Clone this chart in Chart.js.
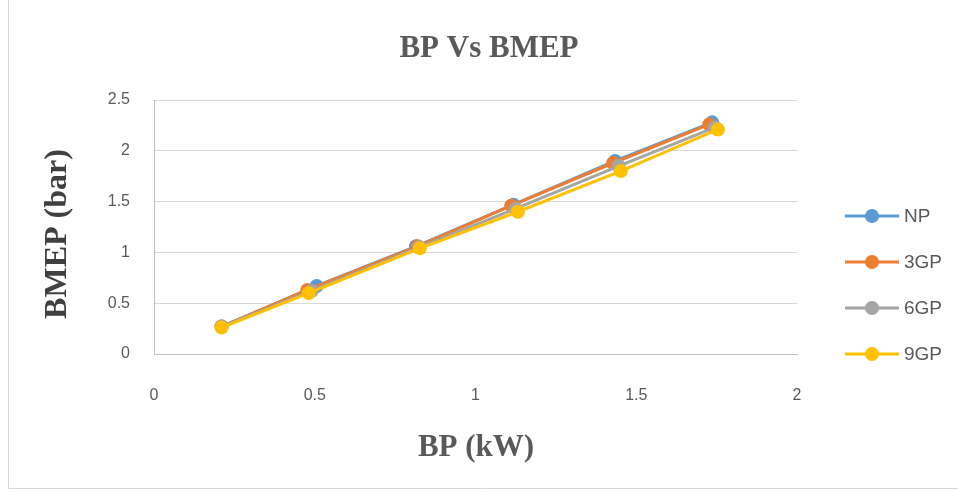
<!DOCTYPE html>
<html>
<head>
<meta charset="utf-8">
<script src="https://cdn.jsdelivr.net/npm/chart.js@4.4.1/dist/chart.umd.min.js"></script>
<style>
  html, body { margin: 0; padding: 0; background: #ffffff; }
  #wrap { width: 958px; height: 492px; position: relative; }
</style>
</head>
<body>
<div id="wrap"><canvas id="c" width="958" height="492"></canvas></div>
<script>
// Brake power (kW) and brake mean effective pressure (bar) per fuel blend
const seriesNames = ['NP', '3GP', '6GP', '9GP'];
const seriesColors = ['#5B9BD5', '#ED7D31', '#A5A5A5', '#FFC000'];

const bpNP   = [0.21, 0.506, 0.815, 1.118, 1.434, 1.736];
const bmepNP = [0.27, 0.67, 1.06, 1.47, 1.90, 2.28];

const bp3GP   = [0.21, 0.477, 0.820, 1.111, 1.428, 1.727];
const bmep3GP = [0.27, 0.63, 1.06, 1.46, 1.88, 2.26];

const bp6GP   = [0.21, 0.490, 0.825, 1.125, 1.445, 1.745];
const bmep6GP = [0.27, 0.62, 1.05, 1.43, 1.85, 2.23];

const bp9GP   = [0.21, 0.481, 0.827, 1.132, 1.452, 1.754];
const bmep9GP = [0.26, 0.60, 1.04, 1.40, 1.80, 2.21];

const xTicks = [0, 0.5, 1, 1.5, 2];
const yTicks = [0, 0.5, 1, 1.5, 2, 2.5];

const chartTitle = 'BP Vs BMEP';
const xTitle = 'BP (kW)';
const yTitle = 'BMEP (bar)';

const seriesX = [bpNP, bp3GP, bp6GP, bp9GP];
const seriesY = [bmepNP, bmep3GP, bmep6GP, bmep9GP];

// later series are painted over earlier ones
const datasets = seriesNames.map((name, i) => ({
  label: name,
  data: seriesX[i].map((x, j) => ({ x: x, y: seriesY[i][j] })),
  order: seriesNames.length - i,
  showLine: true,
  borderColor: seriesColors[i],
  backgroundColor: seriesColors[i],
  borderWidth: 3,
  pointRadius: 7,
  pointHoverRadius: 7,
  pointBorderWidth: 0,
  tension: 0
}));

const tickFont = { family: 'Liberation Sans, Arial, sans-serif', size: 16 };
const serif = 'Liberation Serif, Times New Roman, serif';

// Titles, legend and frame drawn around the plot
const decorations = {
  id: 'decorations',
  beforeDraw(chart) {
    const ctx = chart.ctx;
    ctx.save();
    ctx.fillStyle = '#ffffff';
    ctx.fillRect(0, 0, chart.width, chart.height);
    ctx.strokeStyle = '#D9D9D9';
    ctx.lineWidth = 1;
    ctx.beginPath();
    ctx.moveTo(8.5, 0);
    ctx.lineTo(8.5, 488.5);
    ctx.lineTo(chart.width, 488.5);
    ctx.stroke();
    ctx.restore();
  },
  afterDraw(chart) {
    const ctx = chart.ctx;
    ctx.save();
    ctx.fillStyle = '#595959';
    ctx.textAlign = 'center';
    ctx.textBaseline = 'middle';
    ctx.font = 'bold 31px ' + serif;
    ctx.fillText(chartTitle, 489, 49);
    ctx.font = 'bold 31px ' + serif;
    ctx.fillText(xTitle, 476, 448);
    ctx.fillStyle = '#404040';
    ctx.translate(58, 234);
    ctx.rotate(-Math.PI / 2);
    ctx.font = 'bold 32px ' + serif;
    ctx.fillText(yTitle, 0, 0);
    ctx.restore();

    // legend: line with a centred marker, then the name
    ctx.save();
    ctx.font = '19px Liberation Sans, Arial, sans-serif';
    ctx.textBaseline = 'middle';
    ctx.textAlign = 'left';
    seriesNames.forEach((name, i) => {
      const y = 216 + i * 46;
      ctx.strokeStyle = seriesColors[i];
      ctx.lineWidth = 3;
      ctx.beginPath();
      ctx.moveTo(845, y);
      ctx.lineTo(899, y);
      ctx.stroke();
      ctx.fillStyle = seriesColors[i];
      ctx.beginPath();
      ctx.arc(872, y, 7, 0, Math.PI * 2);
      ctx.fill();
      ctx.fillStyle = '#595959';
      ctx.fillText(name, 904, y + 1);
    });
    ctx.restore();
  }
};

new Chart(document.getElementById('c'), {
  type: 'scatter',
  data: { datasets: datasets },
  options: {
    responsive: false,
    animation: false,
    events: [],
    layout: { padding: { top: 100, right: 161, bottom: 0, left: 0 } },
    plugins: {
      legend: { display: false },
      title: { display: false },
      tooltip: { enabled: false }
    },
    scales: {
      x: {
        type: 'linear',
        min: xTicks[0],
        max: xTicks[xTicks.length - 1],
        afterFit(scale) { scale.height = 138; },
        afterBuildTicks(scale) { scale.ticks = xTicks.map(v => ({ value: v })); },
        grid: { display: false, drawTicks: false },
        border: { display: true, color: '#BFBFBF', width: 1 },
        ticks: { color: '#595959', font: tickFont, padding: 32, callback: v => String(v) }
      },
      y: {
        type: 'linear',
        min: yTicks[0],
        max: yTicks[yTicks.length - 1],
        afterFit(scale) { scale.width = 154; },
        afterBuildTicks(scale) { scale.ticks = yTicks.map(v => ({ value: v })); },
        grid: { color: '#D9D9D9', lineWidth: 1, drawTicks: false },
        border: { display: true, color: '#BFBFBF', width: 1 },
        ticks: { color: '#595959', font: tickFont, padding: 24, callback: v => String(v) }
      }
    }
  },
  plugins: [decorations]
});
</script>
</body>
</html>
